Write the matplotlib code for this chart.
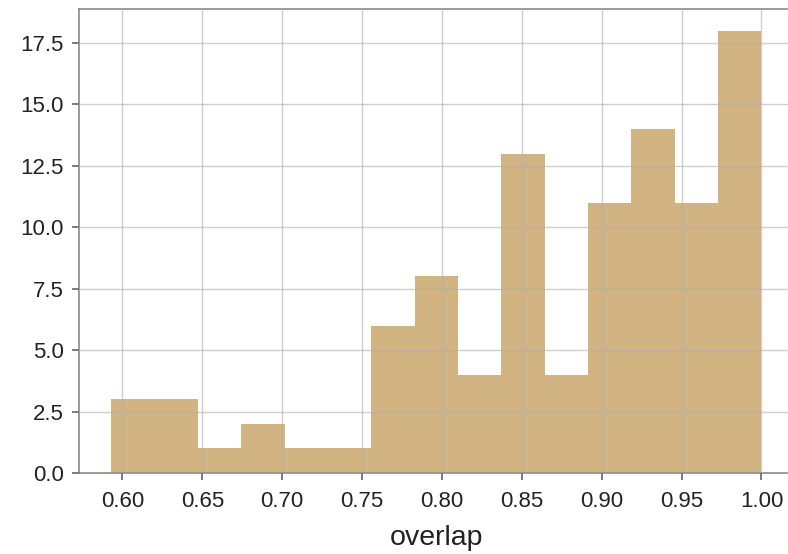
import numpy as np
import matplotlib
matplotlib.use("Agg")
import matplotlib.pyplot as plt

# Histogram of overlap scores: 15 equal bins between the minimum and 1.0
bin_lo = 0.593
bin_hi = 1.0
n_bins = 15
counts = [3, 3, 1, 2, 1, 1, 6, 8, 4, 13, 4, 11, 14, 11, 18]

edges = np.linspace(bin_lo, bin_hi, n_bins + 1)
centers = (edges[:-1] + edges[1:]) / 2

plt.rcParams['font.family'] = ['Liberation Sans', 'DejaVu Sans']

fig = plt.figure(figsize=(7.88, 5.54), dpi=100)
ax = fig.add_axes([0.1, 0.1462, 0.9076, 0.8383])

ax.hist(centers, bins=edges, weights=counts, color='#D2B482', zorder=1)

# grid lines sit on top of the bars
ax.grid(True, color='#b0b0b0', alpha=0.6, linewidth=1.0, zorder=2)
ax.set_axisbelow(False)

ax.set_xticks([0.60, 0.65, 0.70, 0.75, 0.80, 0.85, 0.90, 0.95, 1.00])
ax.set_xticklabels(['0.60', '0.65', '0.70', '0.75', '0.80', '0.85', '0.90', '0.95', '1.00'])
ax.set_yticks([0.0, 2.5, 5.0, 7.5, 10.0, 12.5, 15.0, 17.5])

for side in ax.spines.values():
    side.set_color('#8a8a8a')
    side.set_linewidth(1.2)

ax.tick_params(axis='both', direction='out', length=5, width=1.2, color='#666666',
               labelsize=16, labelcolor='#222222')
ax.tick_params(axis='x', pad=8)
ax.tick_params(axis='y', pad=6)
ax.set_xlabel('overlap', fontsize=20.5, color='#222222', labelpad=9)

fig.savefig('out.png', dpi=100)
